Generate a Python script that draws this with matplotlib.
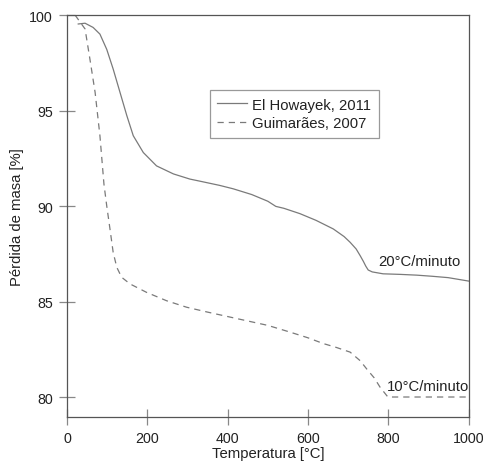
import matplotlib
matplotlib.use('Agg')
import matplotlib.pyplot as plt

plt.rcParams['font.family'] = ['Liberation Sans', 'DejaVu Sans']

# curva TGA a 20 C/min (El Howayek, 2011)
temp_eh = [28, 45, 65, 82, 99, 115, 132, 149, 165, 190, 223, 265, 306, 331,
           380, 414, 460, 500, 520, 540, 580, 620, 663, 690, 705, 720, 730,
           738, 744, 750, 760, 787, 830, 871, 910, 949, 1000]
masa_eh = [99.53, 99.57, 99.35, 99.0, 98.2, 97.17, 95.95, 94.73, 93.68, 92.8,
           92.1, 91.68, 91.41, 91.3, 91.08, 90.9, 90.6, 90.25, 89.98, 89.88,
           89.6, 89.25, 88.8, 88.4, 88.1, 87.75, 87.4, 87.1, 86.85, 86.65,
           86.55, 86.45, 86.42, 86.38, 86.32, 86.25, 86.07]

# curva TGA a 10 C/min (Guimaraes, 2007)
temp_gu = [20, 45, 57, 70, 82, 92, 99, 107, 115, 124, 136, 157, 198, 248,
           298, 349, 435, 500, 555, 600, 638, 670, 705, 730, 747, 765, 780,
           799, 1000]
masa_gu = [100.0, 99.27, 97.7, 95.95, 93.68, 91.15, 90.0, 88.8, 87.57,
           86.79, 86.27, 85.92, 85.48, 85.04, 84.7, 84.45, 84.05, 83.75,
           83.4, 83.1, 82.8, 82.6, 82.35, 81.9, 81.45, 81.0, 80.5, 80.0, 80.0]

series_labels = ['El Howayek, 2011', 'Guimarães, 2007']
rate_labels = ['20°C/minuto', '10°C/minuto']
x_ticks = [0, 200, 400, 600, 800, 1000]
y_ticks = [80, 85, 90, 95, 100]

fs = 10.7
fig = plt.figure(figsize=(4.83, 4.64), dpi=100)
ax = fig.add_axes([0.1387, 0.099, 0.8315, 0.8665])

ax.plot(temp_eh, masa_eh, color='#7a7a7a', lw=0.9, label=series_labels[0])
ax.plot(temp_gu, masa_gu, color='#7a7a7a', lw=0.9, linestyle=(0, (5, 4)),
        label=series_labels[1])

ax.text(775, 87.1, rate_labels[0], fontsize=fs, color='#222222', va='center')
ax.text(797, 80.6, rate_labels[1], fontsize=fs, color='#222222', va='center')

ax.set_xlim(0, 1000)
ax.set_ylim(78.95, 100)
ax.set_xticks(x_ticks)
ax.set_yticks(y_ticks)
ax.tick_params(direction='inout', length=12, width=0.9, color='#888888',
               labelsize=10.3, labelcolor='#222222', pad=4)
for s in ax.spines.values():
    s.set_color('#555555')
    s.set_linewidth(0.9)

ax.set_xlabel('Temperatura [°C]', fontsize=fs, color='#222222', labelpad=1)
ax.set_ylabel('Pérdida de masa [%]', fontsize=fs, color='#222222', labelpad=4)

leg = ax.legend(loc='upper left', bbox_to_anchor=(0.356, 0.813), fontsize=fs,
                fancybox=False, framealpha=1, edgecolor='#999999',
                handlelength=2.0, handletextpad=0.35, borderpad=0.5,
                labelspacing=0.3, borderaxespad=0)
leg.get_frame().set_linewidth(0.9)
for t in leg.get_texts():
    t.set_color('#222222')

fig.savefig('out.png', dpi=100)
